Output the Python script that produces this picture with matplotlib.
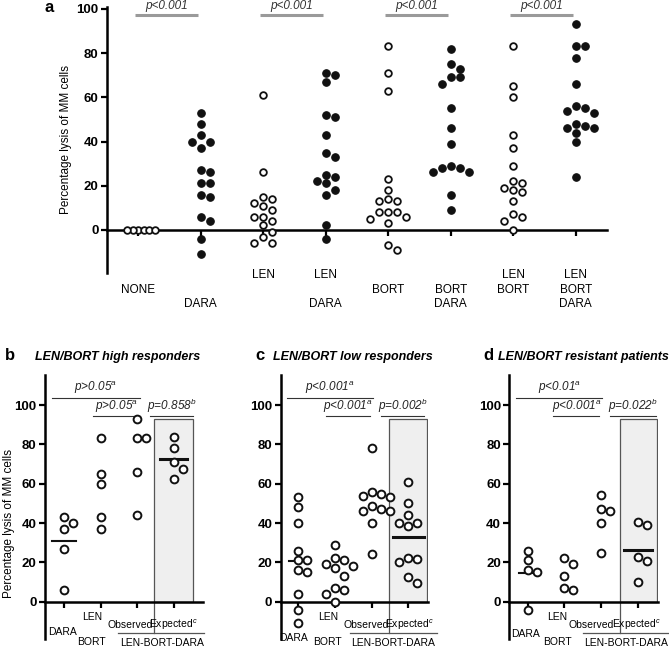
import numpy as np
import matplotlib
matplotlib.use("Agg")
import matplotlib.pyplot as plt
from matplotlib.patches import Rectangle

plt.rcParams['font.family'] = ['Liberation Sans', 'DejaVu Sans']
plt.rcParams['mathtext.fontset'] = 'custom'
plt.rcParams['mathtext.it'] = 'Liberation Sans:italic'
plt.rcParams['mathtext.rm'] = 'Liberation Sans'

W, H = 669, 651

# ---------------- data: panel a ----------------
a_categories = [["NONE"], ["DARA"], ["LEN"], ["LEN", "DARA"], ["BORT"],
                ["BORT", "DARA"], ["LEN", "BORT"], ["LEN", "BORT", "DARA"]]
a_none = [0, 0, 0, 0, 0, 0]
a_dara = [53, 48, 43, 40, 40, 37, 27, 26, 21, 21, 16, 15, 6, 4, -4, -11]
a_len = [61, 26, 15, 14, 12, 11, 9, 6, 6, 4, 2, -1, -3, -6, -6]
a_len_dara = [71, 70, 67, 52, 51, 43, 35, 33, 25, 24, 22, 21, 18, 16, 2, -4]
a_bort = [83, 71, 63, 23, 18, 14, 13, 13, 8, 8, 8, 6, 5, 3, -7, -9]
a_bort_dara = [82, 75, 73, 69, 69, 66, 55, 46, 39, 29, 28, 28, 26, 26, 16, 9]
a_len_bort = [83, 65, 60, 43, 37, 29, 22, 21, 19, 18, 17, 13, 7, 6, 4, 0]
a_len_bort_dara = [93, 83, 83, 78, 66, 56, 55, 54, 53, 48, 47, 46, 46, 44, 40, 24]
a_filled = [False, True, False, True, False, True, False, True]
a_pairs = [(0, 1), (2, 3), (4, 5), (6, 7)]
a_ptext = ["p<0.001"] * 4

# ---------------- data: panels b-d ----------------
bcd_groups = ["DARA", "LEN\nBORT", "Observed", "Expected"]
b_dara = [43, 40, 37, 27, 6]
b_lenbort = [83, 65, 60, 43, 37]
b_obs = [93, 83, 83, 66, 44]
b_exp = [84, 78, 71, 67.5, 62.5]
c_dara = [53, 48, 40, 26, 21, 21, 16, 15, 4, -4, -11]
c_lenbort = [29, 22, 21, 19, 18, 17, 13, 7, 6, 4, 0]
c_obs = [78, 56, 55, 54, 53, 48.5, 47, 46, 46, 40, 24]
c_exp = [61, 50, 44, 40, 40, 38.5, 22, 21.5, 20, 12.5, 9.5]
d_dara = [26, 21, 16, 15, -4]
d_lenbort = [22, 19, 13, 7, 6]
d_obs = [54.5, 47, 46, 40, 24.5]
d_exp = [40.5, 39, 22.5, 20.5, 10]
b_pvals = [r"p>0.05$^{a}$", r"p>0.05$^{a}$", r"p=0.858$^{b}$"]
c_pvals = [r"p<0.001$^{a}$", r"p<0.001$^{a}$", r"p=0.002$^{b}$"]
d_pvals = [r"p<0.01$^{a}$", r"p<0.001$^{a}$", r"p=0.022$^{b}$"]
titles = ["LEN/BORT high responders", "LEN/BORT low responders", "LEN/BORT resistant patients"]
letters = ["b", "c", "d"]
ylabel = "Percentage lysis of MM cells"

fig = plt.figure(figsize=(W / 100, H / 100), dpi=100)


def rect(x0, x1, ytop, ybot):
    return [x0 / W, 1 - ybot / H, (x1 - x0) / W, (ybot - ytop) / H]


def swarm(ax, x0, vals, step_px, diam_px):
    vals = np.asarray(vals, dtype=float)
    pts = ax.transData.transform(np.column_stack([np.full(len(vals), x0), vals]))
    ys = pts[:, 1]
    pxu = ax.transData.transform([(1, 0)])[0, 0] - ax.transData.transform([(0, 0)])[0, 0]
    offs = np.zeros(len(vals))
    placed = []
    for i in np.argsort(-vals, kind="stable"):
        for k in [0, 1, -1, 2, -2, 3, -3, 4, -4]:
            dx = k * step_px
            if all((dx - px) ** 2 + (ys[i] - py) ** 2 >= diam_px ** 2 for px, py in placed):
                break
        placed.append((dx, ys[i]))
        offs[i] = dx / pxu
    return x0 + offs


TICKFS = 9.5

# ================= panel a =================
ax = fig.add_axes(rect(107, 607, 6.7, 273))
ax.set_xlim(-0.5, 7.5)
ax.set_ylim(-19.5, 101)
for s in ["top", "right"]:
    ax.spines[s].set_visible(False)
ax.spines["bottom"].set_position(("data", 0))
ax.spines["left"].set_linewidth(1.8)
ax.spines["bottom"].set_linewidth(1.8)
ax.set_yticks([0, 20, 40, 60, 80, 100])
ax.set_xticks(range(8))
ax.set_xticklabels([])
ax.tick_params(axis="y", length=4, width=1.6, pad=2, labelsize=TICKFS)
ax.tick_params(axis="x", length=4, width=1.6, direction="out")
for lab in ax.get_yticklabels():
    lab.set_fontweight("bold")

a_series = [a_none, a_dara, a_len, a_len_dara, a_bort, a_bort_dara, a_len_bort, a_len_bort_dara]
for i, (vals, filled) in enumerate(zip(a_series, a_filled)):
    step = 5.5 if i == 0 else 9
    xs = swarm(ax, i, vals, step, 7.5 if i else 5)
    if filled:
        ax.plot(xs, vals, "o", ms=5.4, mfc="#111111", mec="#111111", mew=0.8, ls="none",
                clip_on=False, zorder=3)
    else:
        ax.plot(xs, vals, "o", ms=4.8, mfc="white", mec="#111111", mew=1.3, ls="none",
                clip_on=False, zorder=3)

row_of = {"LEN": -20.4, "NONE": -27.1, "BORT": -27.1, "DARA": -33.5}
for i, words in enumerate(a_categories):
    for w in words:
        ax.text(i, row_of[w], w, ha="center", va="center", fontsize=8.5, clip_on=False)

for (i, j), t in zip(a_pairs, a_ptext):
    ax.plot([i - 0.05, j - 0.05], [97.3, 97.3], color="#9a9a9a", lw=2.2, clip_on=False,
            solid_capstyle="butt")
    ax.text((i + j) / 2 - 0.05, 98.6, t, ha="center", va="bottom", fontsize=8.5,
            style="italic", color="#333333", clip_on=False)

fig.text(49 / W, 1 - 8 / H, "a", fontsize=12, fontweight="bold", ha="center", va="center")
fig.text(66 / W, 1 - 140 / H, ylabel, rotation=90, ha="center", va="center", fontsize=8.5)

# ================= panels b-d =================
layouts = [  # spine_x, tick0_x, spacing, end_x
    (45, 64, 36.5, 203),
    (280.7, 298.3, 36.7, 428.3),
    (509.3, 527.7, 36.7, 658.3),
]
bcd_data = [
    [b_dara, b_lenbort, b_obs, b_exp],
    [c_dara, c_lenbort, c_obs, c_exp],
    [d_dara, d_lenbort, d_obs, d_exp],
]
pvals = [b_pvals, c_pvals, d_pvals]
p_lines = [
    [(-0.34, 2.08, 103.7), (0.79, 2.08, 94.4), (2.36, 3.53, 94.4)],
    [(-0.32, 2.04, 103.7), (0.75, 1.95, 94.4), (2.25, 3.43, 94.4)],
    [(-0.32, 2.03, 103.7), (0.70, 1.95, 94.4), (2.24, 3.50, 94.4)],
]
boxes = [(2.47, 3.53), (2.48, 3.51), (2.51, 3.53)]
sep_lines = [(1.48, 3.84), (1.42, 3.77), (1.51, 3.85)]
dara_lab = [(-0.03, -15.3), (-0.13, -18.5), (-0.05, -16.4)]
lenbort_lab = [(0.76, 0.76), (0.81, 0.80), (0.80, 0.80)]
obs_lab = [1.81, 1.85, 1.74]
exp_lab = [3.0, 3.02, 2.97]
lbd_lab = [2.69, 2.59, 2.68]
title_x = [118, 353, 583]
letter_x = [5, 255, 483]
mean_half = [(0.34, 0.38), (0.24, 0.43), (0.25, 0.38)]

for k in range(3):
    sx, t0, sp, ex = layouts[k]
    ax = fig.add_axes(rect(sx, ex, 375, 639))
    ax.set_xlim((sx - t0) / sp, (ex - t0) / sp)
    ax.set_ylim(-19, 115.3)
    for s in ["top", "right"]:
        ax.spines[s].set_visible(False)
    ax.spines["bottom"].set_position(("data", 0))
    ax.spines["left"].set_linewidth(1.8)
    ax.spines["bottom"].set_linewidth(1.8)
    ax.set_yticks([0, 20, 40, 60, 80, 100])
    ax.set_xticks(range(4))
    ax.set_xticklabels([])
    ax.tick_params(axis="y", length=4, width=1.6, pad=2, labelsize=TICKFS)
    ax.tick_params(axis="x", length=4, width=1.6, direction="out")
    for lab in ax.get_yticklabels():
        lab.set_fontweight("bold")

    b0, b1 = boxes[k]
    ax.add_patch(Rectangle((b0, 0), b1 - b0, 92.7, facecolor="#efefef", edgecolor="#555555",
                           lw=0.9, zorder=0))
    ax.plot([b0, b0], [0, -15.9], color="#555555", lw=0.9, clip_on=False)
    ax.plot(list(sep_lines[k]), [-15.9, -15.9], color="#555555", lw=0.9, clip_on=False)

    for i, vals in enumerate(bcd_data[k]):
        xs = swarm(ax, i, vals, 9, 8.5)
        ax.plot(xs, vals, "o", ms=5.6, mfc="white", mec="#111111", mew=1.4, ls="none",
                clip_on=False, zorder=3)
    m0 = np.mean(bcd_data[k][0])
    m3 = np.mean(bcd_data[k][3])
    h0, h3 = mean_half[k]
    ax.plot([-h0, h0], [m0, m0], color="#111111", lw=1.5, zorder=2)
    ax.plot([3 - h3, 3 + h3], [m3, m3], color="#111111", lw=2.2, zorder=2)

    for (x0, x1, yl), t in zip(p_lines[k], pvals[k]):
        ax.plot([x0, x1], [yl, yl], color="#333333", lw=0.8, clip_on=False)
        ax.text((x0 + x1) / 2, yl + 0.8, t, ha="center", va="bottom", fontsize=8.5,
                style="italic", color="#222222", clip_on=False)

    dx, dy = dara_lab[k]
    ax.text(dx, dy, "DARA", ha="center", va="center", fontsize=7.5, clip_on=False)
    ax.text(lenbort_lab[k][0], -7.8, "LEN", ha="center", va="center", fontsize=7.5, clip_on=False)
    ax.text(lenbort_lab[k][1], -20.5, "BORT", ha="center", va="center", fontsize=7.5, clip_on=False)
    ax.text(obs_lab[k], -11.9, "Observed", ha="center", va="center", fontsize=7.5, clip_on=False)
    ax.text(exp_lab[k], -11.9, r"Expected$^{c}$", ha="center", va="center", fontsize=7.5,
            clip_on=False)
    ax.text(lbd_lab[k], -21.0, "LEN-BORT-DARA", ha="center", va="center", fontsize=7.5,
            clip_on=False)

    fig.text(title_x[k] / W, 1 - 356.5 / H, titles[k], ha="center", va="center", fontsize=9,
             fontweight="bold", style="italic")
    fig.text(letter_x[k] / W, 1 - 355 / H, letters[k], ha="left", va="center", fontsize=12,
             fontweight="bold")

fig.text(9 / W, 1 - 523 / H, ylabel, rotation=90, ha="center", va="center", fontsize=8.5)

fig.savefig("out.png", dpi=100)
